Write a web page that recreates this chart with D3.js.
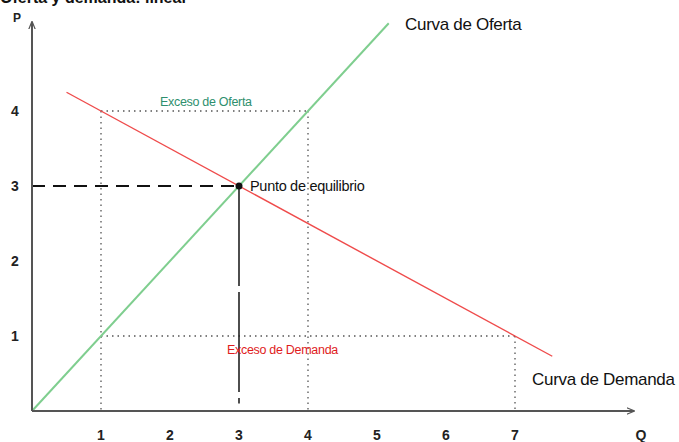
<!DOCTYPE html>
<html>
<head>
<meta charset="utf-8">
<script src="https://cdn.jsdelivr.net/npm/d3@7"></script>
<style>
  html, body { margin: 0; padding: 0; background: #fff; }
  svg { display: block; }
  text { font-family: "Liberation Sans", Arial, sans-serif; }
</style>
</head>
<body>
<svg id="chart" width="679" height="442"></svg>
<script>
// Supply and demand model data
const xTicks = [1, 2, 3, 4, 5, 6, 7];
const yTicks = [1, 2, 3, 4];
const supplyQ = [0, 5.17];
const supplyP = [0, 5.17];
const demandQ = [0.5, 7.54];
const demandP = [4.25, 0.73];
const equilibrium = [3, 3];        // [Q, P]
const surplusPrice = 4;            // price with excess supply
const shortagePrice = 1;           // price with excess demand
const surplusQ = [1, 4];           // demanded / supplied at P = 4
const shortageQ = [1, 7];          // supplied / demanded at P = 1

const svg = d3.select("#chart");
const x = d3.scaleLinear().domain([0, 1]).range([32, 101]);
const y = d3.scaleLinear().domain([0, 1]).range([411, 336]);

// Heading running off the top edge
svg.append("text").attr("x", 0).attr("y", 3)
  .attr("font-family", "Liberation Serif, serif").attr("font-weight", "bold")
  .attr("font-size", 16).attr("fill", "#111").text("Oferta y demanda: lineal");

// Arrow marker
svg.append("defs").append("marker").attr("id", "arr")
  .attr("viewBox", "0 0 10 10").attr("refX", 9).attr("refY", 5)
  .attr("markerWidth", 8).attr("markerHeight", 8).attr("orient", "auto-start-reverse")
  .attr("markerUnits", "userSpaceOnUse")
  .append("path").attr("d", "M0,1 L10,5 L0,9").attr("fill", "none")
  .attr("stroke", "#555").attr("stroke-width", 1.5);

// Guide lines
const dotted = { stroke: "#555", "stroke-width": 1.3, "stroke-dasharray": "1.5,4" };
function seg(x1, y1, x2, y2, style) {
  const l = svg.append("line").attr("x1", x(x1)).attr("y1", y(y1)).attr("x2", x(x2)).attr("y2", y(y2));
  Object.entries(style).forEach(([k, v]) => l.attr(k, v));
  return l;
}
seg(surplusQ[0], surplusPrice, surplusQ[1], surplusPrice, dotted);
seg(surplusQ[0], surplusPrice, surplusQ[0], 0, dotted);
seg(surplusQ[1], surplusPrice, surplusQ[1], 0, dotted);
seg(shortageQ[0], shortagePrice, shortageQ[1], shortagePrice, dotted);
seg(shortageQ[1], shortagePrice, shortageQ[1], 0, dotted);

const dashed = { stroke: "#111", "stroke-width": 2.2, "stroke-dasharray": "13,8" };
seg(0, equilibrium[1], equilibrium[0], equilibrium[1], dashed);
seg(equilibrium[0], equilibrium[1], equilibrium[0], 0.1,
  { stroke: "#222", "stroke-width": 1.6, "stroke-dasharray": "100,6" });

// Curves
const line = d3.line().x(d => x(d[0])).y(d => y(d[1]));
svg.append("path").datum(d3.zip(supplyQ, supplyP)).attr("d", line)
  .attr("stroke", "#7fce8f").attr("stroke-width", 2).attr("fill", "none");
svg.append("path").datum(d3.zip(demandQ, demandP)).attr("d", line)
  .attr("stroke", "#ef4b4b").attr("stroke-width", 1.4).attr("fill", "none");

// Axes
svg.append("line").attr("x1", x(0)).attr("y1", y(0)).attr("x2", 634).attr("y2", y(0))
  .attr("stroke", "#555").attr("stroke-width", 2).attr("marker-end", "url(#arr)");
svg.append("line").attr("x1", x(0)).attr("y1", y(0)).attr("x2", x(0)).attr("y2", 22)
  .attr("stroke", "#555").attr("stroke-width", 2).attr("marker-end", "url(#arr)");

svg.selectAll(".xt").data(xTicks).join("text").attr("class", "xt")
  .attr("x", d => x(d)).attr("y", 440).attr("text-anchor", "middle")
  .attr("font-size", 14).attr("font-weight", "bold").attr("fill", "#222").text(d => d);
svg.selectAll(".yt").data(yTicks).join("text").attr("class", "yt")
  .attr("x", 15).attr("y", d => y(d) + 5).attr("text-anchor", "middle")
  .attr("font-size", 14).attr("font-weight", "bold").attr("fill", "#222").text(d => d);
svg.append("text").attr("x", 17).attr("y", 22).attr("text-anchor", "middle")
  .attr("font-size", 12).attr("font-weight", "bold").attr("fill", "#222").text("P");
svg.append("text").attr("x", 641).attr("y", 440).attr("text-anchor", "middle")
  .attr("font-size", 14).attr("font-weight", "bold").attr("fill", "#222").text("Q");

// Equilibrium point
svg.append("circle").attr("cx", x(equilibrium[0])).attr("cy", y(equilibrium[1]))
  .attr("r", 3.5).attr("fill", "#111");

// Annotations
svg.append("text").attr("x", 250).attr("y", 191).attr("font-size", 14.5)
  .attr("fill", "#111").attr("letter-spacing", -0.3).text("Punto de equilibrio");
svg.append("text").attr("x", 405).attr("y", 30).attr("font-size", 17)
  .attr("fill", "#111").attr("letter-spacing", -0.3).text("Curva de Oferta");
svg.append("text").attr("x", 532).attr("y", 385).attr("font-size", 17)
  .attr("fill", "#111").attr("letter-spacing", -0.3).text("Curva de Demanda");
svg.append("text").attr("x", 160).attr("y", 106).attr("font-size", 12.5)
  .attr("fill", "#2e8f6e").attr("letter-spacing", -0.3).text("Exceso de Oferta");
svg.append("text").attr("x", 227).attr("y", 354).attr("font-size", 12.5)
  .attr("fill", "#e01c1c").attr("letter-spacing", -0.3).text("Exceso de Demanda");
</script>
</body>
</html>
